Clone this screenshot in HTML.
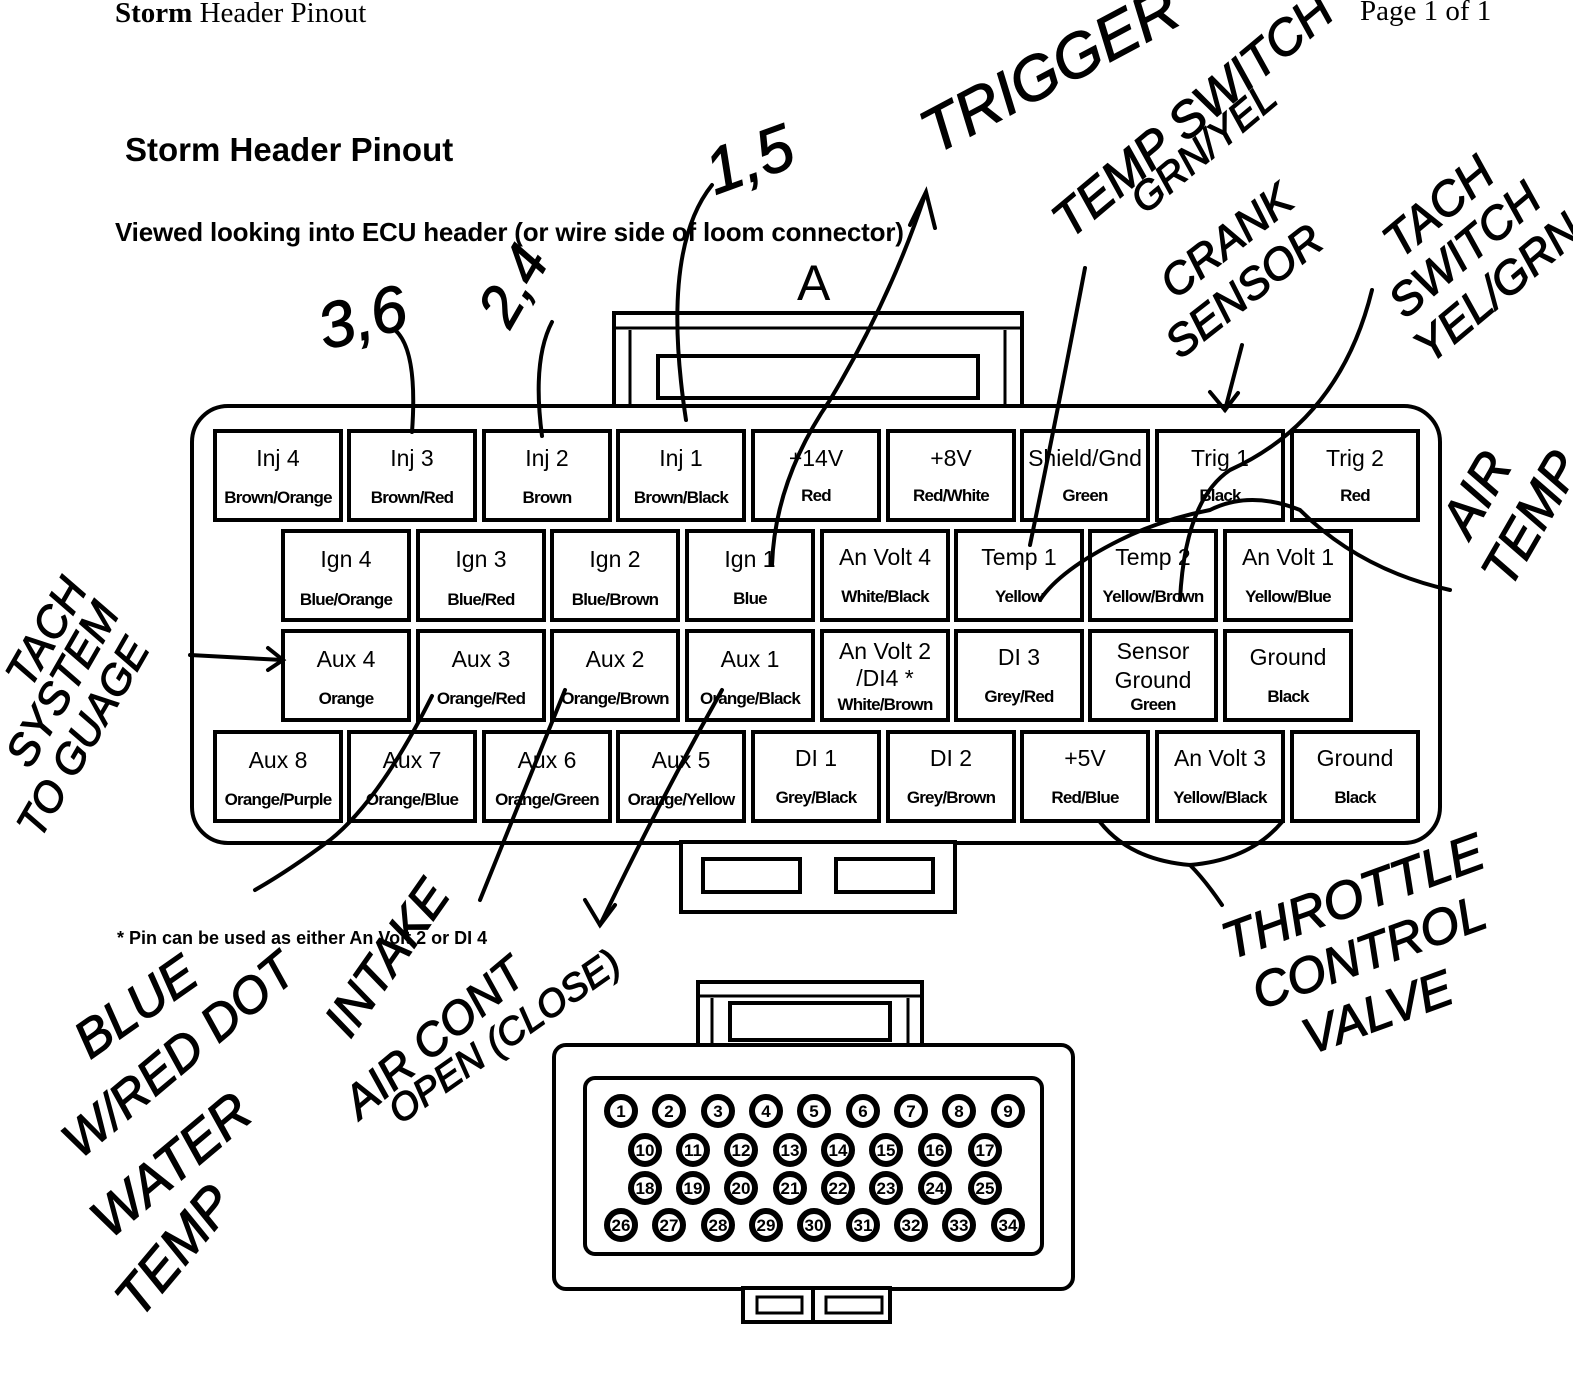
<!DOCTYPE html>
<html><head><meta charset="utf-8"><style>
html,body{margin:0;padding:0;background:#fff;}
svg{display:block;}
.t{font-family:"Liberation Sans",sans-serif;fill:#000;}
.h{font-family:"Liberation Sans",sans-serif;font-style:italic;fill:#000;stroke:#000;stroke-width:1.2;}
</style></head><body>
<svg width="1573" height="1383" viewBox="0 0 1573 1383" xmlns="http://www.w3.org/2000/svg">
<rect width="1573" height="1383" fill="#fff"/>
<text x="115" y="22" font-family="Liberation Serif,serif" font-size="29" font-weight="bold">Storm <tspan font-weight="normal">Header Pinout</tspan></text>
<text x="1360" y="20" font-family="Liberation Serif,serif" font-size="29">Page 1 of 1</text>
<text x="125" y="161" class="t" font-size="33" font-weight="bold">Storm Header Pinout</text>
<text x="115" y="241" class="t" font-size="26" font-weight="bold" letter-spacing="-0.2">Viewed looking into ECU header (or wire side of loom connector)</text>
<text x="797" y="300" class="t" font-size="50">A</text>
<g fill="none" stroke="#000">
<rect x="614" y="313" width="408" height="95" stroke-width="4"/>
<line x1="614" y1="328" x2="1022" y2="328" stroke-width="3"/>
<line x1="630" y1="330" x2="630" y2="408" stroke-width="3"/>
<line x1="1005" y1="330" x2="1005" y2="408" stroke-width="3"/>
<rect x="658" y="356" width="320" height="42" stroke-width="4"/>
<rect x="192" y="406" width="1248" height="437" rx="36" stroke-width="4" fill="#fff"/>
<rect x="681" y="842" width="274" height="70" stroke-width="4" fill="#fff"/>
<rect x="703" y="859" width="97" height="33" stroke-width="4"/>
<rect x="836" y="859" width="97" height="33" stroke-width="4"/>
</g>
<g fill="#fff" stroke="#000" stroke-width="4">
<rect x="215" y="431" width="126" height="89"/><rect x="349" y="431" width="126" height="89"/><rect x="484" y="431" width="126" height="89"/><rect x="618" y="431" width="126" height="89"/><rect x="753" y="431" width="126" height="89"/><rect x="888" y="431" width="126" height="89"/><rect x="1022" y="431" width="126" height="89"/><rect x="1157" y="431" width="126" height="89"/><rect x="1292" y="431" width="126" height="89"/>
<rect x="283" y="531" width="126" height="89"/><rect x="418" y="531" width="126" height="89"/><rect x="552" y="531" width="126" height="89"/><rect x="687" y="531" width="126" height="89"/><rect x="822" y="531" width="126" height="89"/><rect x="956" y="531" width="126" height="89"/><rect x="1090" y="531" width="126" height="89"/><rect x="1225" y="531" width="126" height="89"/>
<rect x="283" y="631" width="126" height="89"/><rect x="418" y="631" width="126" height="89"/><rect x="552" y="631" width="126" height="89"/><rect x="687" y="631" width="126" height="89"/><rect x="822" y="631" width="126" height="89"/><rect x="956" y="631" width="126" height="89"/><rect x="1090" y="631" width="126" height="89"/><rect x="1225" y="631" width="126" height="89"/>
<rect x="215" y="732" width="126" height="89"/><rect x="349" y="732" width="126" height="89"/><rect x="484" y="732" width="126" height="89"/><rect x="618" y="732" width="126" height="89"/><rect x="753" y="732" width="126" height="89"/><rect x="888" y="732" width="126" height="89"/><rect x="1022" y="732" width="126" height="89"/><rect x="1157" y="732" width="126" height="89"/><rect x="1292" y="732" width="126" height="89"/>
</g>
<g class="t" text-anchor="middle" font-size="23">
<text x="278" y="466">Inj 4</text><text x="412" y="466">Inj 3</text><text x="547" y="466">Inj 2</text><text x="681" y="466">Inj 1</text><text x="816" y="466">+14V</text><text x="951" y="466">+8V</text><text x="1085" y="466">Shield/Gnd</text><text x="1220" y="466">Trig 1</text><text x="1355" y="466">Trig 2</text>
<text x="346" y="567">Ign 4</text><text x="481" y="567">Ign 3</text><text x="615" y="567">Ign 2</text><text x="750" y="567">Ign 1</text><text x="885" y="565">An Volt 4</text><text x="1019" y="565">Temp 1</text><text x="1153" y="565">Temp 2</text><text x="1288" y="565">An Volt 1</text>
<text x="346" y="667">Aux 4</text><text x="481" y="667">Aux 3</text><text x="615" y="667">Aux 2</text><text x="750" y="667">Aux 1</text><text x="885" y="659">An Volt 2</text><text x="885" y="686">/DI4 *</text><text x="1019" y="665">DI 3</text><text x="1153" y="659">Sensor</text><text x="1153" y="688">Ground</text><text x="1288" y="665">Ground</text>
<text x="278" y="768">Aux 8</text><text x="412" y="768">Aux 7</text><text x="547" y="768">Aux 6</text><text x="681" y="768">Aux 5</text><text x="816" y="766">DI 1</text><text x="951" y="766">DI 2</text><text x="1085" y="766">+5V</text><text x="1220" y="766">An Volt 3</text><text x="1355" y="766">Ground</text>
</g>
<g class="t" text-anchor="middle" font-size="17" font-weight="bold" letter-spacing="-0.8">
<text x="278" y="503">Brown/Orange</text><text x="412" y="503">Brown/Red</text><text x="547" y="503">Brown</text><text x="681" y="503">Brown/Black</text><text x="816" y="501">Red</text><text x="951" y="501">Red/White</text><text x="1085" y="501">Green</text><text x="1220" y="501">Black</text><text x="1355" y="501">Red</text>
<text x="346" y="605">Blue/Orange</text><text x="481" y="605">Blue/Red</text><text x="615" y="605">Blue/Brown</text><text x="750" y="604">Blue</text><text x="885" y="602">White/Black</text><text x="1019" y="602">Yellow</text><text x="1153" y="602">Yellow/Brown</text><text x="1288" y="602">Yellow/Blue</text>
<text x="346" y="704">Orange</text><text x="481" y="704">Orange/Red</text><text x="615" y="704">Orange/Brown</text><text x="750" y="704">Orange/Black</text><text x="885" y="710">White/Brown</text><text x="1019" y="702">Grey/Red</text><text x="1153" y="710">Green</text><text x="1288" y="702">Black</text>
<text x="278" y="805">Orange/Purple</text><text x="412" y="805">Orange/Blue</text><text x="547" y="805">Orange/Green</text><text x="681" y="805">Orange/Yellow</text><text x="816" y="803">Grey/Black</text><text x="951" y="803">Grey/Brown</text><text x="1085" y="803">Red/Blue</text><text x="1220" y="803">Yellow/Black</text><text x="1355" y="803">Black</text>
</g>
<text x="117" y="944" class="t" font-size="18" font-weight="bold">* Pin can be used as either An Volt 2 or DI 4</text>
<g fill="none" stroke="#000">
<rect x="698" y="982" width="224" height="64" stroke-width="4"/>
<line x1="698" y1="996" x2="922" y2="996" stroke-width="3"/>
<line x1="712" y1="998" x2="712" y2="1046" stroke-width="3"/>
<line x1="908" y1="998" x2="908" y2="1046" stroke-width="3"/>
<rect x="730" y="1003" width="160" height="37" stroke-width="4"/>
<rect x="554" y="1045" width="519" height="244" rx="12" stroke-width="4" fill="#fff"/>
<rect x="585" y="1078" width="457" height="176" rx="10" stroke-width="4"/>
<rect x="743" y="1288" width="147" height="34" stroke-width="4" fill="#fff"/>
<line x1="813" y1="1288" x2="813" y2="1322" stroke-width="4"/>
<rect x="757" y="1297" width="45" height="16" stroke-width="3"/>
<rect x="826" y="1297" width="56" height="16" stroke-width="3"/>
</g>
<g fill="#fff" stroke="#000" stroke-width="6">
<circle cx="621" cy="1111" r="14"/><circle cx="669" cy="1111" r="14"/><circle cx="718" cy="1111" r="14"/><circle cx="766" cy="1111" r="14"/><circle cx="814" cy="1111" r="14"/><circle cx="863" cy="1111" r="14"/><circle cx="911" cy="1111" r="14"/><circle cx="959" cy="1111" r="14"/><circle cx="1008" cy="1111" r="14"/>
<circle cx="645" cy="1150" r="14"/><circle cx="693" cy="1150" r="14"/><circle cx="741" cy="1150" r="14"/><circle cx="790" cy="1150" r="14"/><circle cx="838" cy="1150" r="14"/><circle cx="886" cy="1150" r="14"/><circle cx="935" cy="1150" r="14"/><circle cx="985" cy="1150" r="14"/>
<circle cx="645" cy="1188" r="14"/><circle cx="693" cy="1188" r="14"/><circle cx="741" cy="1188" r="14"/><circle cx="790" cy="1188" r="14"/><circle cx="838" cy="1188" r="14"/><circle cx="886" cy="1188" r="14"/><circle cx="935" cy="1188" r="14"/><circle cx="985" cy="1188" r="14"/>
<circle cx="621" cy="1225" r="14"/><circle cx="669" cy="1225" r="14"/><circle cx="718" cy="1225" r="14"/><circle cx="766" cy="1225" r="14"/><circle cx="814" cy="1225" r="14"/><circle cx="863" cy="1225" r="14"/><circle cx="911" cy="1225" r="14"/><circle cx="959" cy="1225" r="14"/><circle cx="1008" cy="1225" r="14"/>
</g>
<g class="t" text-anchor="middle" font-size="17" font-weight="bold">
<text x="621" y="1117">1</text><text x="669" y="1117">2</text><text x="718" y="1117">3</text><text x="766" y="1117">4</text><text x="814" y="1117">5</text><text x="863" y="1117">6</text><text x="911" y="1117">7</text><text x="959" y="1117">8</text><text x="1008" y="1117">9</text>
<text x="645" y="1156">10</text><text x="693" y="1156">11</text><text x="741" y="1156">12</text><text x="790" y="1156">13</text><text x="838" y="1156">14</text><text x="886" y="1156">15</text><text x="935" y="1156">16</text><text x="985" y="1156">17</text>
<text x="645" y="1194">18</text><text x="693" y="1194">19</text><text x="741" y="1194">20</text><text x="790" y="1194">21</text><text x="838" y="1194">22</text><text x="886" y="1194">23</text><text x="935" y="1194">24</text><text x="985" y="1194">25</text>
<text x="621" y="1231">26</text><text x="669" y="1231">27</text><text x="718" y="1231">28</text><text x="766" y="1231">29</text><text x="814" y="1231">30</text><text x="863" y="1231">31</text><text x="911" y="1231">32</text><text x="959" y="1231">33</text><text x="1008" y="1231">34</text>
</g>
<g fill="none" stroke="#000" stroke-width="4" stroke-linecap="round">
<path d="M395 330 Q418 350 412 432"/>
<path d="M552 322 Q532 360 542 436"/>
<path d="M712 185 Q660 250 686 420"/>
<path d="M772 565 Q775 480 830 400 Q890 300 925 195"/>
<path d="M910 225 L926 192 L935 228"/>
<path d="M1085 268 Q1060 400 1030 545"/>
<path d="M1242 345 L1225 410"/>
<path d="M1210 392 L1225 410 L1238 393"/>
<path d="M1372 290 Q1340 420 1230 470 Q1185 500 1180 600"/>
<path d="M1450 590 Q1360 570 1300 510 Q1250 490 1210 510 Q1160 520 1120 540 Q1060 570 1040 600"/>
<path d="M190 655 L283 660"/>
<path d="M268 648 L283 660 L268 670"/>
<path d="M432 696 Q380 800 330 840 Q290 870 255 890"/>
<path d="M565 690 Q520 800 480 900"/>
<path d="M722 690 Q660 800 600 925"/>
<path d="M585 900 L600 925 L615 905"/>
<path d="M1100 822 Q1130 860 1190 865 Q1250 860 1282 822"/>
<path d="M1190 865 Q1205 880 1222 905"/>
</g>
<g class="h">
<text x="325" y="350" font-size="64" transform="rotate(-15 325 350)">3,6</text>
<text x="510" y="330" font-size="58" transform="rotate(-60 510 330)">2,4</text>
<text x="715" y="195" font-size="64" transform="rotate(-20 715 195)">1,5</text>
<text x="935" y="155" font-size="62" transform="rotate(-28 935 155)">TRIGGER</text>
<text x="1070" y="240" font-size="50" transform="rotate(-40 1070 240)">TEMP SWITCH</text>
<text x="1145" y="215" font-size="40" transform="rotate(-40 1145 215)">GRN/YEL</text>
<text x="1175" y="300" font-size="44" transform="rotate(-38 1175 300)">CRANK</text>
<text x="1180" y="360" font-size="44" transform="rotate(-38 1180 360)">SENSOR</text>
<text x="1400" y="260" font-size="48" transform="rotate(-40 1400 260)">TACH</text>
<text x="1405" y="320" font-size="46" transform="rotate(-40 1405 320)">SWITCH</text>
<text x="1430" y="365" font-size="46" transform="rotate(-40 1430 365)">YEL/GRN</text>
<text x="1470" y="540" font-size="52" transform="rotate(-60 1470 540)">AIR</text>
<text x="1510" y="590" font-size="52" transform="rotate(-60 1510 590)">TEMP</text>
<text x="30" y="690" font-size="44" transform="rotate(-60 30 690)">TACH</text>
<text x="30" y="770" font-size="44" transform="rotate(-60 30 770)">SYSTEM</text>
<text x="40" y="840" font-size="42" transform="rotate(-60 40 840)">TO GUAGE</text>
<text x="90" y="1060" font-size="52" transform="rotate(-35 90 1060)">BLUE</text>
<text x="80" y="1160" font-size="50" transform="rotate(-40 80 1160)">W/RED DOT</text>
<text x="110" y="1240" font-size="54" transform="rotate(-40 110 1240)">WATER</text>
<text x="140" y="1320" font-size="54" transform="rotate(-50 140 1320)">TEMP</text>
<text x="350" y="1040" font-size="50" transform="rotate(-55 350 1040)">INTAKE</text>
<text x="360" y="1120" font-size="46" transform="rotate(-40 360 1120)">AIR CONT</text>
<text x="400" y="1125" font-size="38" transform="rotate(-35 400 1125)">OPEN (CLOSE)</text>
<text x="1230" y="960" font-size="52" transform="rotate(-20 1230 960)">THROTTLE</text>
<text x="1260" y="1010" font-size="50" transform="rotate(-20 1260 1010)">CONTROL</text>
<text x="1310" y="1055" font-size="50" transform="rotate(-20 1310 1055)">VALVE</text>
</g>
</svg>
</body></html>
